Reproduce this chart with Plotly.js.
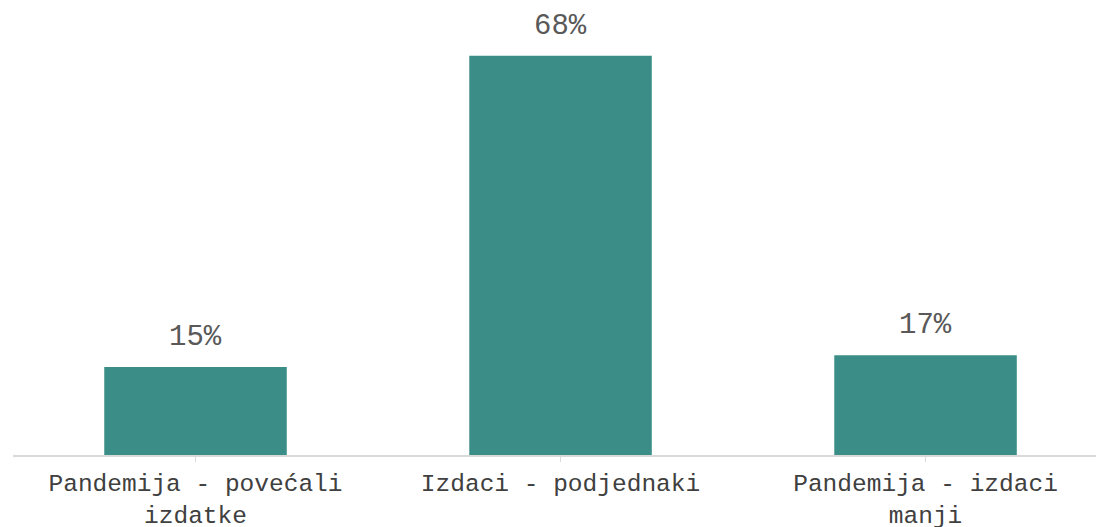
<!DOCTYPE html>
<html>
<head>
<meta charset="utf-8">
<script src="https://cdn.plot.ly/plotly-3.0.1.min.js"></script>
<style>html,body{margin:0;padding:0;background:#fff;}#chart{width:1096px;height:527px;}</style>
</head>
<body>
<div id="chart"></div>
<script>
const categories = ["Pandemija - povećali<br>izdatke", "Izdaci - podjednaki", "Pandemija - izdaci<br>manji"];
const values = [15, 68, 17];
const labels = ["15%", "68%", "17%"];

const font = "'Courier New', 'Liberation Mono', monospace";
const xs = values.map((v, i) => i);

const annotations = values.map((v, i) => ({
  x: xs[i], y: v, xref: "x", yref: "y",
  text: labels[i], showarrow: false,
  yanchor: "bottom", xanchor: "center", yshift: 11,
  font: {family: font, size: 29, color: "#595959"}
}));

Plotly.newPlot("chart", [{
  type: "bar",
  x: xs,
  y: values,
  marker: {color: "#3a8e87"},
  hoverinfo: "none"
}], {
  width: 1096, height: 527,
  margin: {l: 13, r: 0, t: 0, b: 72},
  bargap: 0.5,
  showlegend: false,
  paper_bgcolor: "#ffffff",
  plot_bgcolor: "#ffffff",
  annotations: annotations,
  xaxis: {
    range: [-0.5, 2.467],
    tickmode: "array",
    tickvals: xs,
    ticktext: categories,
    tickson: "boundaries",
    ticks: "outside",
    ticklen: 5,
    tickcolor: "#d9d9d9",
    tickwidth: 1.5,
    showline: true,
    linecolor: "#d9d9d9",
    linewidth: 1.5,
    showgrid: false,
    zeroline: false,
    tickfont: {family: font, size: 24.5, color: "#404040"},
    fixedrange: true
  },
  yaxis: {
    range: [0, 77.5],
    visible: false,
    showgrid: false,
    zeroline: false,
    fixedrange: true
  }
}, {displayModeBar: false, staticPlot: true});
</script>
</body>
</html>
